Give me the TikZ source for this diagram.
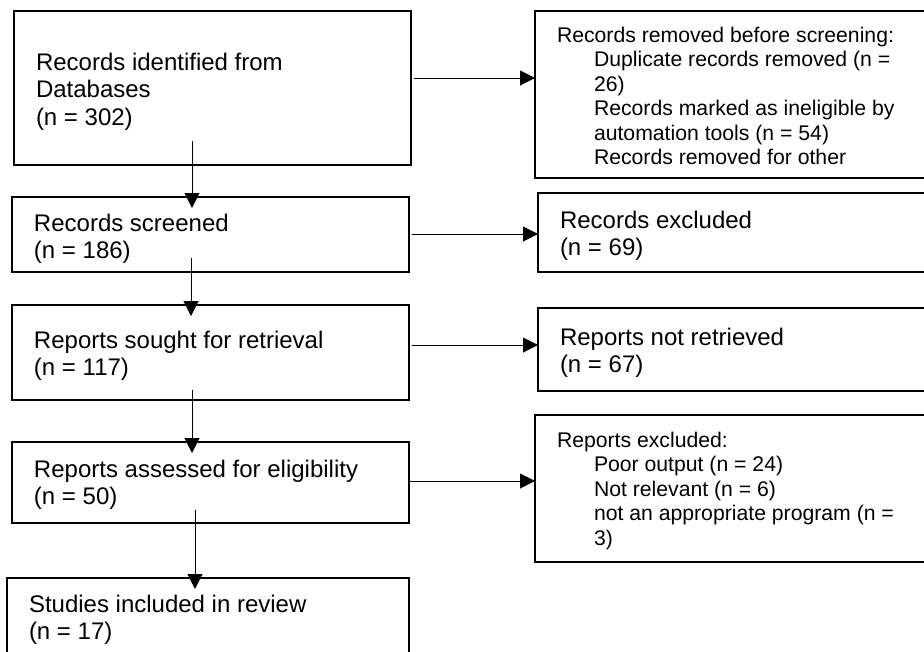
\documentclass[tikz,border=0pt]{standalone}
\usepackage{fontspec}
\setmainfont{Liberation Sans}
\usetikzlibrary{arrows.meta}
\begin{document}
\begin{tikzpicture}[x=1pt,y=-1pt,
  box/.style={draw, line width=2.2pt, inner sep=0pt, outer sep=0pt, anchor=north west},
  bigtxt/.style={anchor=north west, inner sep=0pt, outer sep=0pt, align=left, font=\fontsize{24}{27.5}\selectfont},
  smalltxt/.style={anchor=north west, inner sep=0pt, outer sep=0pt, align=left, font=\fontsize{21.2}{24.5}\selectfont},
  flow/.style={line width=1pt, -{Triangle[length=15pt,width=15pt]}},
  downflow/.style={flow, shorten >=-11pt}]
\useasboundingbox (0,0) rectangle (924,651);
\clip (0,0) rectangle (924,651);
% boxes
\node[box, minimum width=397pt, minimum height=154pt] (b1) at (14,11) {};
\node[box, minimum width=397pt, minimum height=75pt] (b2) at (12,197) {};
\node[box, minimum width=397pt, minimum height=95pt] (b3) at (12,305) {};
\node[box, minimum width=397pt, minimum height=81pt] (b4) at (12,442) {};
\node[box, minimum width=402pt, minimum height=120pt] (b5) at (7,578) {};
\node[box, minimum width=420pt, minimum height=167pt] (r1) at (535,11) {};
\node[box, minimum width=420pt, minimum height=79pt] (r2) at (538,193) {};
\node[box, minimum width=420pt, minimum height=83pt] (r3) at (538,308) {};
\node[box, minimum width=420pt, minimum height=147pt] (r4) at (535,415) {};
% texts
\node[bigtxt] (t1) at (36,50.75) {\strut Records identified from\\Databases\\(n = 302)};
\node[bigtxt] (t2) at (34,211.75) {\strut Records screened\\(n = 186)};
\node[bigtxt] (t3) at (34,328.75) {\strut Reports sought for retrieval\\(n = 117)};
\node[bigtxt] (t4) at (34,457.75) {\strut Reports assessed for eligibility\\(n = 50)};
\node[bigtxt] (t5) at (29,592.75) {\strut Studies included in review\\(n = 17)};
\node[bigtxt] (t6) at (560,208.75) {\strut Records excluded\\(n = 69)};
\node[bigtxt] (t7) at (560,325.75) {\strut Reports not retrieved\\(n = 67)};
\node[smalltxt] (t8) at (557,24.85) {\strut Records removed before screening:\\
  \hspace*{37pt}Duplicate records removed (n =\\
  \hspace*{37pt}26)\\
  \hspace*{37pt}Records marked as ineligible by\\
  \hspace*{37pt}automation tools (n = 54)\\
  \hspace*{37pt}Records removed for other};
\node[smalltxt] (t9) at (557,429.85) {\strut Reports excluded:\\
  \hspace*{37pt}Poor output (n = 24)\\
  \hspace*{37pt}Not relevant (n = 6)\\
  \hspace*{37pt}not an appropriate program (n =\\
  \hspace*{37pt}3)};
% connectors
\coordinate (h1) at (414,78);
\coordinate (h2) at (412,234);
\coordinate (h3) at (412,345);
\coordinate (h4) at (409,481);
\coordinate (v1) at (192,141);
\coordinate (v2) at (191,258);
\coordinate (v3) at (192,390);
\coordinate (v4) at (195,510);
\draw[flow] (h1) -- (h1 -| r1.west);
\draw[flow] (h2) -- (h2 -| r2.west);
\draw[flow] (h3) -- (h3 -| r3.west);
\draw[flow] (h4) -- (h4 -| r4.west);
\draw[downflow] (v1) -- (v1 |- b2.north);
\draw[downflow] (v2) -- (v2 |- b3.north);
\draw[downflow] (v3) -- (v3 |- b4.north);
\draw[downflow] (v4) -- (v4 |- b5.north);
\end{tikzpicture}
\end{document}
